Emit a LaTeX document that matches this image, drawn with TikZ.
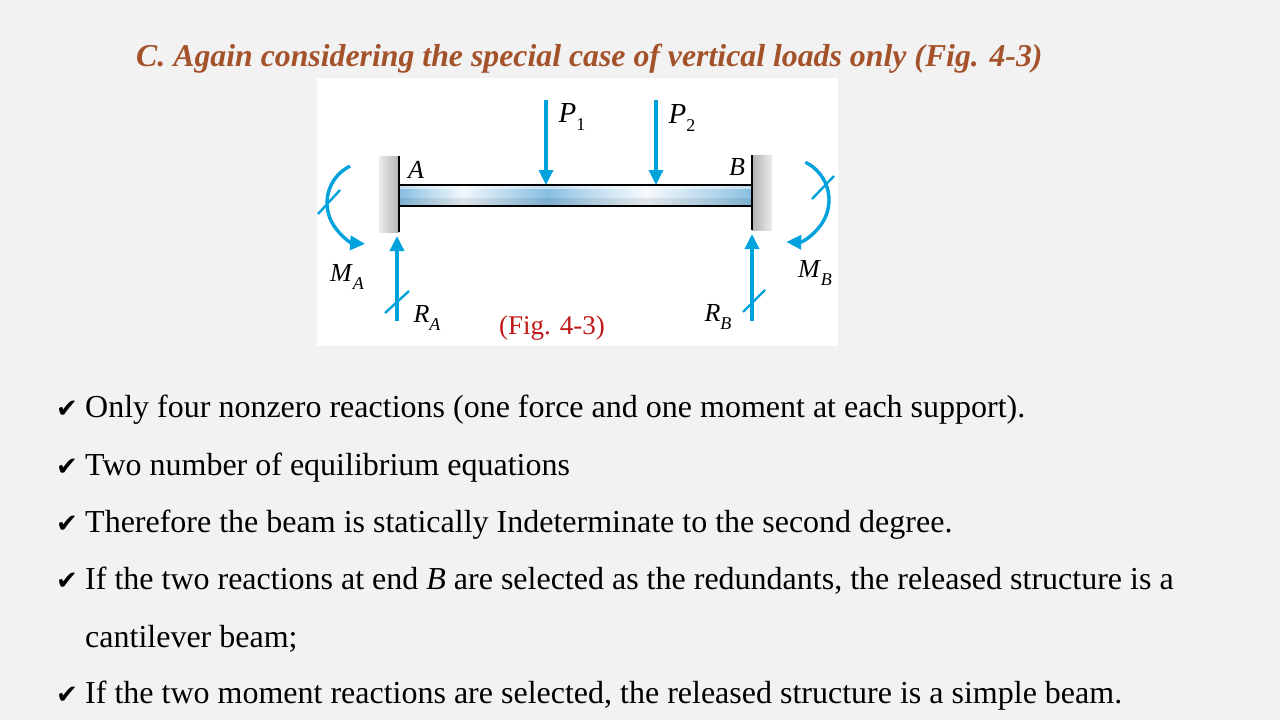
\documentclass[tikz,border=0pt]{standalone}
\usepackage{fontspec}
\setmainfont{Liberation Serif}
\newfontfamily\symfont{DejaVu Sans}
\usetikzlibrary{arrows.meta}
\definecolor{bg}{RGB}{242,242,242}
\definecolor{titlec}{RGB}{164,82,42}
\definecolor{arrowc}{RGB}{0,162,222}
\definecolor{figred}{RGB}{192,24,24}
\definecolor{beamb}{RGB}{135,190,225}
\pgfdeclarehorizontalshading{beamshade}{100bp}{color(0bp)=(beamb); color(25bp)=(beamb); color(34bp)=(beamb!12!white); color(46bp)=(beamb); color(52bp)=(beamb!55!white); color(60bp)=(beamb!8!white); color(70bp)=(beamb!65!white); color(75bp)=(beamb); color(100bp)=(beamb)}
\newcommand\lab[2]{\textit{#1}\raisebox{-0.28em}{\fontsize{18}{18}\selectfont #2}}
\tikzset{
  force/.style={draw=arrowc, line width=3.4pt, -{Triangle[length=15pt,width=14pt]}},
  tick/.style={draw=arrowc, line width=2.4pt},
  flab/.style={inner sep=0pt, font=\fontsize{26}{26}\selectfont},
  body/.style={anchor=base west, inner sep=0pt, font=\fontsize{32}{38}\selectfont},
  chk/.style={anchor=base west, inner sep=0pt, font=\symfont\fontsize{26}{28}\selectfont},
}
\begin{document}
\begin{tikzpicture}[x=1pt,y=-1pt]
\fill[bg] (0,0) rectangle (1280,720);
\useasboundingbox (0,0) rectangle (1280,720);
% title
\node[anchor=base west, inner sep=0pt, text=titlec, font=\fontsize{31.8}{38}\selectfont\bfseries\itshape] (title) at (136,66) {C. Again considering the special case of vertical loads only (Fig. 4-3)};
% figure panel
\fill[white] (317,78) rectangle (838,346);
% walls
\shade[left color=gray!15, right color=gray!60] (379,156) rectangle (399,232);
\shade[left color=gray!60, right color=gray!15] (752,155) rectangle (772,230);
% beam
\shade[shading=beamshade] (399,185) rectangle (752,206);
\fill[white, opacity=0.5] (399,186) rectangle (752,188.5);
\fill[black, opacity=0.08] (399,198) rectangle (752,205);
\draw[black, line width=1.3pt] (399,185) -- (752,185);
\draw[black, line width=1.3pt] (399,206) -- (752,206);
\draw[black, line width=2.6pt] (399,156) -- (399,232);
\draw[black, line width=2.6pt] (752,155) -- (752,230);
% coordinates
\coordinate (p1s) at (546,100); \coordinate (p1e) at (546,185);
\coordinate (p2s) at (656,100); \coordinate (p2e) at (656,185);
\coordinate (ras) at (397,321); \coordinate (rae) at (397,236);
\coordinate (rbs) at (752,321); \coordinate (rbe) at (752,234);
\coordinate (mac) at (368,203); \coordinate (mbc) at (787,200);
% loads
\draw[force] (p1s) -- (p1e);
\draw[force] (p2s) -- (p2e);
\draw[force] (ras) -- (rae);
\draw[force] (rbs) -- (rbe);
\draw[force] (mac) ++(-116:41) arc[start angle=-116, end angle=-266, radius=41];
\draw[force] (mbc) ++(-64:42) arc[start angle=-64, end angle=91, radius=42];
% ticks
\draw[tick] (385,313) -- (409,291);
\draw[tick] (743,312) -- (765,290);
\draw[tick] (318,214) -- (340,190);
\draw[tick] (812,199) -- (834,176);
% labels
\node[flab, font=\fontsize{29}{29}\selectfont] (P1) at (572,117) {\lab{P}{1}};
\node[flab, font=\fontsize{29}{29}\selectfont] (P2) at (682,118) {\lab{P}{2}};
\node[flab] (A) at (416,170) {\textit{A}};
\node[flab] (B) at (737,167) {\textit{B}};
\node[flab] (MA) at (347,277) {\lab{M}{\textit{A}}};
\node[flab] (MB) at (815,273) {\lab{M}{\textit{B}}};
\node[flab] (RA) at (427,318) {\lab{R}{\textit{A}}};
\node[flab] (RB) at (718,317) {\lab{R}{\textit{B}}};
\node[flab, text=figred, font=\fontsize{27}{27}\selectfont] (fig) at (552,328) {(Fig. 4-3)};
% bullets
\foreach \y/\n in {417/c1,475/c2,532/c3,589/c4,703/c6}{
  \node[chk] (\n) at (56,\y) {✔};
}
\node[body] (t1) at (85,417) {Only four nonzero reactions (one force and one moment at each support).};
\node[body] (t2) at (85,475) {Two number of equilibrium equations};
\node[body] (t3) at (85,532) {Therefore the beam is statically Indeterminate to the second degree.};
\node[body] (t4) at (85,589) {If the two reactions at end \textit{B} are selected as the redundants, the released structure is a};
\node[body] (t5) at (85,647) {cantilever beam;};
\node[body] (t6) at (85,703) {If the two moment reactions are selected, the released structure is a simple beam.};
\end{tikzpicture}
\end{document}
